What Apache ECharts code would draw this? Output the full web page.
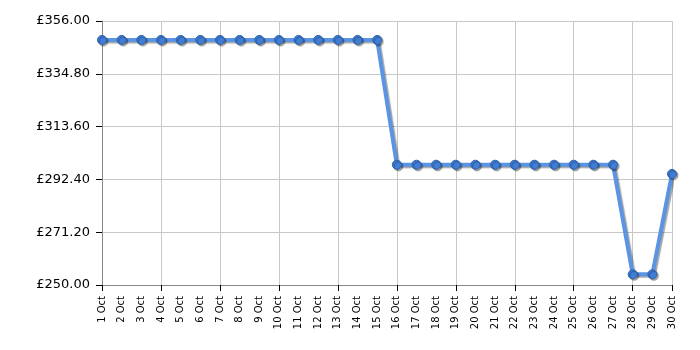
<!DOCTYPE html>
<html>
<head>
<meta charset="utf-8">
<script src="https://cdn.jsdelivr.net/npm/echarts@6/dist/echarts.min.js"></script>
<style>html,body{margin:0;padding:0;background:#fff}#c{width:700px;height:350px}</style>
</head>
<body>
<div id="c"></div>
<script>
const categories = ["1 Oct","2 Oct","3 Oct","4 Oct","5 Oct","6 Oct","7 Oct","8 Oct","9 Oct","10 Oct",
  "11 Oct","12 Oct","13 Oct","14 Oct","15 Oct","16 Oct","17 Oct","18 Oct","19 Oct","20 Oct",
  "21 Oct","22 Oct","23 Oct","24 Oct","25 Oct","26 Oct","27 Oct","28 Oct","29 Oct","30 Oct"];
const prices = [348.4,348.4,348.4,348.4,348.4,348.4,348.4,348.4,348.4,348.4,
  348.4,348.4,348.4,348.4,348.4,298.3,298.3,298.3,298.3,298.3,
  298.3,298.3,298.3,298.3,298.3,298.3,298.3,254.3,254.3,294.6];
const yMin = 250, yMax = 356, yStep = 21.2;

const chart = echarts.init(document.getElementById('c'));
chart.setOption({
  animation: false,
  backgroundColor: '#fff',
  grid: {left: 102, right: 28, top: 21, bottom: 65},
  xAxis: {
    type: 'category',
    data: categories,
    boundaryGap: false,
    axisLine: {lineStyle: {color: '#888', width: 1}},
    axisTick: {show: true, interval: 2, length: 6, lineStyle: {color: '#000'}},
    axisLabel: {interval: 0, rotate: 90, fontFamily: 'DejaVu Sans', fontSize: 10, color: '#000', margin: 11},
    splitLine: {show: true, interval: 2, lineStyle: {color: '#c8c8c8', width: 1}}
  },
  yAxis: {
    type: 'value',
    min: yMin, max: yMax, interval: yStep,
    axisLine: {show: true, lineStyle: {color: '#888', width: 1}},
    axisTick: {show: true, length: 6, lineStyle: {color: '#000'}},
    axisLabel: {fontFamily: 'DejaVu Sans', fontSize: 13, color: '#000', margin: 12,
      formatter: v => '£' + v.toFixed(2)},
    splitLine: {show: true, lineStyle: {color: '#c8c8c8', width: 1}}
  },
  series: [{
    type: 'line',
    data: prices,
    symbol: 'circle',
    symbolSize: 9,
    lineStyle: {color: '#5a94e2', width: 4, shadowColor: 'rgba(0,0,0,0.35)', shadowBlur: 1, shadowOffsetX: 1.5, shadowOffsetY: 1.5},
    itemStyle: {color: '#3f7dd6', borderColor: '#2f63ae', borderWidth: 1, shadowColor: 'rgba(0,0,0,0.35)', shadowBlur: 1, shadowOffsetX: 1.5, shadowOffsetY: 1.5}
  }]
});
</script>
</body>
</html>
